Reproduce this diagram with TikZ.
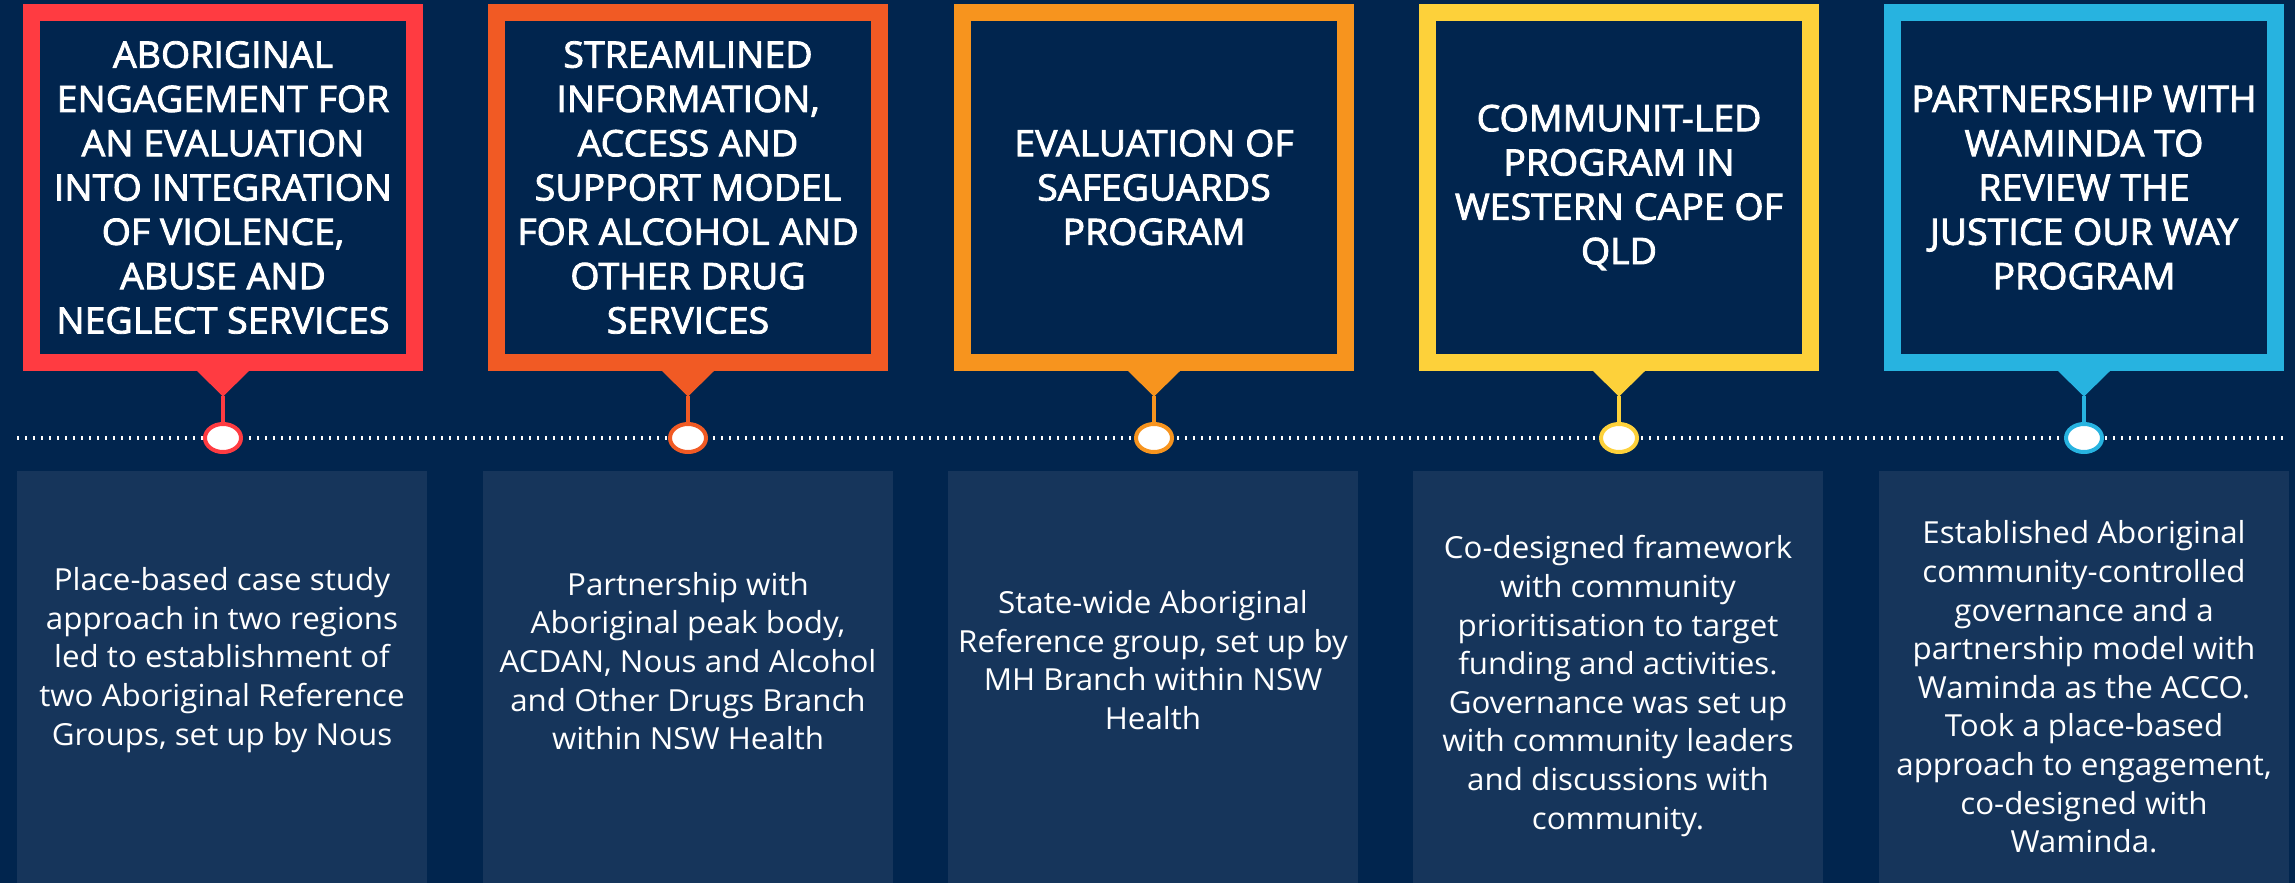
\documentclass[tikz,border=0pt]{standalone}
\usepackage{fontspec}
\setmainfont{Open Sans}
\newfontfamily\ttlfont[FakeBold=2.3,FakeStretch=1.03]{Open Sans}
\newfontfamily\bodyfont[FakeStretch=1.03]{Open Sans}
\usetikzlibrary{shapes.geometric,calc}
\definecolor{navy}{HTML}{01254E}
\definecolor{panelc}{HTML}{16355B}
\definecolor{cred}{HTML}{FF3B41}
\definecolor{corange}{HTML}{F15A24}
\definecolor{camber}{HTML}{F7941E}
\definecolor{cyellow}{HTML}{FDD13A}
\definecolor{ccyan}{HTML}{27B3E0}
\tikzset{
  frame/.style={draw=#1, line width=17pt, fill=navy, minimum width=383pt,
    minimum height=350pt, inner sep=0pt, text=white, align=center,
    font=\ttlfont\fontsize{36.4}{44.3}\selectfont},
  panel/.style={fill=panelc, minimum width=410pt, minimum height=412pt, inner sep=0pt},
  bodytxt/.style={text=white, align=center, inner sep=0pt,
    font=\bodyfont\fontsize{30.4}{38.6}\selectfont},
  dotn/.style={ellipse, draw=#1, line width=4pt, fill=white,
    minimum width=36pt, minimum height=28pt, inner sep=0pt},
  stem/.style={draw=#1, line width=3.5pt},
  dotline/.style={draw=white, line width=4pt, dash pattern=on 1.6pt off 6.4pt}
}
\newcommand\milestone[7]{%
  % #1 id, #2 cx, #3 colour, #4 title, #5 body y, #6 body, #7 panel cx
  \node[frame=#3] (t#1) at (#2,187.5) {#4};
  \fill[#3] ($(t#1.south)+(-26,0)$) -- ($(t#1.south)+(0,25.5)$) -- ($(t#1.south)+(26,0)$) -- cycle;
  \coordinate (a#1) at ($(t#1.south)+(0,25)$);
  \node[dotn=#3] (d#1) at (#2,438) {};
  \draw[stem=#3] (a#1) -- (d#1.north);
  \node[panel] (p#1) at (#7,677) {};
  \node[bodytxt] (b#1) at (#7,#5) {#6};
}
\begin{document}
\begin{tikzpicture}[x=1pt,y=-1pt]
\fill[navy] (0,0) rectangle (2295,883);
\useasboundingbox (0,0) rectangle (2295,883);
\coordinate (lineL) at (17,438);
\coordinate (lineR) at (2286,438);
\draw[dotline] (lineL) -- (lineR);
\milestone{1}{223}{cred}{ABORIGINAL\\ENGAGEMENT FOR\\AN EVALUATION\\INTO INTEGRATION\\OF VIOLENCE,\\ABUSE AND\\NEGLECT SERVICES}{660}{Place-based case study\\approach in two regions\\led to establishment of\\two Aboriginal Reference\\Groups, set up by Nous}{222}
\milestone{2}{688}{corange}{STREAMLINED\\INFORMATION,\\ACCESS AND\\SUPPORT MODEL\\FOR ALCOHOL AND\\OTHER DRUG\\SERVICES}{661}{Partnership with\\Aboriginal peak body,\\ACDAN, Nous and Alcohol\\and Other Drugs Branch\\within NSW Health}{688}
\milestone{3}{1154}{camber}{EVALUATION OF\\SAFEGUARDS\\PROGRAM}{660}{State-wide Aboriginal\\Reference group, set up by\\MH Branch within NSW\\Health}{1153}
\milestone{4}{1619}{cyellow}{COMMUNIT-LED\\PROGRAM IN\\WESTERN CAPE OF\\QLD}{686}{Co-designed framework\\with community\\prioritisation to target\\funding and activities.\\Governance was set up\\with community leaders\\and discussions with\\community.}{1618}
\milestone{5}{2084}{ccyan}{PARTNERSHIP WITH\\WAMINDA TO\\REVIEW THE\\JUSTICE OUR WAY\\PROGRAM}{687}{Established Aboriginal\\community-controlled\\governance and a\\partnership model with\\Waminda as the ACCO.\\Took a place-based\\approach to engagement,\\co-designed with\\Waminda.}{2084}
\end{tikzpicture}
\end{document}
